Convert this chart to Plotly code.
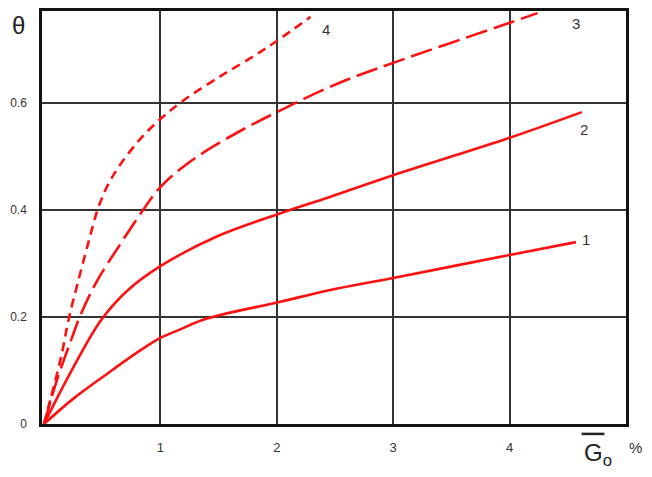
import plotly.graph_objects as go

# Curve data (theta vs G0, %)
c1_x = [0, 0.25, 0.55, 0.83, 1.0, 1.16, 1.4, 2.02, 2.45, 3.0, 4.0, 4.57]
c1_y = [0, 0.047, 0.095, 0.138, 0.161, 0.176, 0.197, 0.228, 0.25, 0.273, 0.316, 0.34]

c2_x = [0, 0.23, 0.49, 0.72, 1.0, 1.48, 2.02, 2.45, 3.0, 4.0, 4.62]
c2_y = [0, 0.097, 0.194, 0.25, 0.295, 0.35, 0.393, 0.424, 0.465, 0.535, 0.583]

c3_x = [0, 0.12, 0.23, 0.32, 0.46, 0.64, 0.82, 1.0, 1.24, 1.59, 2.0, 2.53, 3.0, 4.0, 4.24]
c3_y = [0, 0.088, 0.155, 0.207, 0.269, 0.331, 0.39, 0.443, 0.488, 0.536, 0.583, 0.637, 0.675, 0.75, 0.768]

c4_x = [0, 0.06, 0.15, 0.21, 0.29, 0.38, 0.46, 0.54, 0.64, 0.82, 0.99, 1.18, 1.53, 1.82, 2.0, 2.29]
c4_y = [0, 0.05, 0.128, 0.194, 0.264, 0.338, 0.40, 0.443, 0.48, 0.531, 0.568, 0.602, 0.652, 0.69, 0.716, 0.761]

curve_labels = ["1", "2", "3", "4"]
label_x = [4.66, 4.64, 4.57, 2.42]
label_y = [0.344, 0.55, 0.748, 0.737]

x_ticks = [1, 2, 3, 4]
y_ticks = [0, 0.2, 0.4, 0.6]
y_ticktext = ["0", "0.2", "0.4", "0.6"]

RED = "#ff1010"
FONT = "Liberation Sans, Arial, sans-serif"

fig = go.Figure()
series = [(c1_x, c1_y, "solid"), (c2_x, c2_y, "solid"),
          (c3_x, c3_y, "22px,7px"), (c4_x, c4_y, "9px,6px")]
for xs, ys, dash in series:
    fig.add_trace(go.Scatter(x=xs, y=ys, mode="lines",
                             line=dict(color=RED, width=2.6, dash=dash, shape="spline", smoothing=1.0),
                             showlegend=False, hoverinfo="skip"))

for t, lx, ly in zip(curve_labels, label_x, label_y):
    fig.add_annotation(x=lx, y=ly, text=t, showarrow=False,
                       font=dict(family=FONT, size=15, color="#333333"),
                       xanchor="center", yanchor="middle")

# theta label
fig.add_annotation(xref="paper", yref="paper", x=-0.041, y=0.966, text="θ",
                   showarrow=False, font=dict(family=FONT, size=24, color="#222222"),
                   xanchor="center", yanchor="middle")
# G0 label
fig.add_annotation(xref="paper", yref="paper", x=0.925, y=-0.075, text="G<sub>o</sub>",
                   showarrow=False, font=dict(family=FONT, size=24, color="#222222"),
                   xanchor="left", yanchor="middle")
fig.add_shape(type="line", xref="paper", yref="paper", x0=0.924, x1=0.963,
              y0=-0.024, y1=-0.024, line=dict(color="#222222", width=2.5))
fig.add_annotation(xref="paper", yref="paper", x=1.017, y=-0.058, text="%",
                   showarrow=False, font=dict(family=FONT, size=15, color="#333333"),
                   xanchor="center", yanchor="middle")
# small tick mark above top frame
fig.add_shape(type="line", xref="paper", yref="paper", x0=0.395, x1=0.405,
              y0=1.016, y1=1.016, line=dict(color="#222222", width=2))

fig.update_xaxes(range=[-0.017, 5.0], tickvals=x_ticks, ticktext=[str(v) for v in x_ticks],
                 showgrid=True, gridcolor="#333333", gridwidth=1.5, zeroline=False,
                 showline=True, linecolor="#111111", linewidth=2.5, mirror=True,
                 ticks="", ticklabelstandoff=10, automargin=False,
                 tickfont=dict(family=FONT, size=13, color="#333333"))
fig.update_yaxes(range=[0, 0.772], tickvals=y_ticks, ticktext=y_ticktext,
                 showgrid=True, gridcolor="#333333", gridwidth=1.5, zeroline=False,
                 showline=True, linecolor="#111111", linewidth=2.5, mirror=True,
                 ticks="", ticklabelstandoff=10, automargin=False,
                 tickfont=dict(family=FONT, size=12, color="#333333"))

# page body adds an 8px offset; compensate so the plot area lands where the reference has it
fig.update_layout(width=644, height=469, margin=dict(l=34, r=26, t=3, b=53),
                  plot_bgcolor="white", paper_bgcolor="white")

fig.write_html("out.html")
